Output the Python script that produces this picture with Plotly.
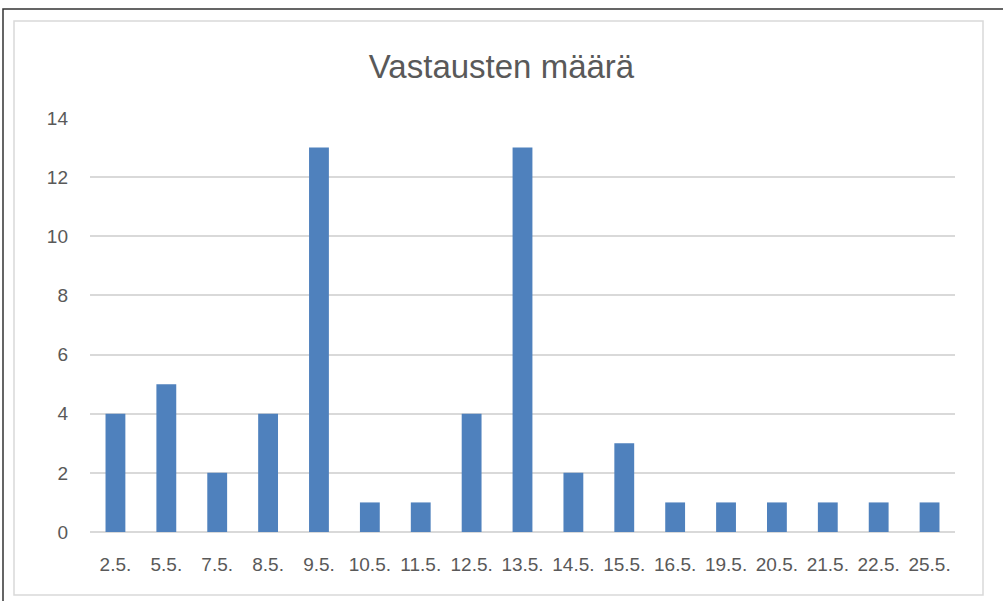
import plotly.graph_objects as go

categories = ["2.5.", "5.5.", "7.5.", "8.5.", "9.5.", "10.5.", "11.5.", "12.5.", "13.5.",
              "14.5.", "15.5.", "16.5.", "19.5.", "20.5.", "21.5.", "22.5.", "25.5."]
values = [4, 5, 2, 4, 13, 1, 1, 4, 13, 2, 3, 1, 1, 1, 1, 1, 1]
y_ticks = [0, 2, 4, 6, 8, 10, 12, 14]

W, H = 1003, 601
L, R, T, B = 90, 955, 118, 532

fig = go.Figure(go.Bar(x=categories, y=values, marker_color="#4F81BD",
                       marker_line_width=0, width=0.39))

def px(x):
    return (x - L) / (R - L)

def py(y):
    return (B - y) / (B - T)

fig.update_layout(
    width=W, height=H,
    margin=dict(l=L, r=W - R, t=T, b=H - B),
    paper_bgcolor="white", plot_bgcolor="white",
    font=dict(family="Liberation Sans, Arial, sans-serif", color="#595959"),
    title=dict(text="Vastausten määrä", x=0.5, xanchor="center", y=1 - 66 / H, yanchor="middle",
               font=dict(size=33, color="#595959", family="Liberation Sans, sans-serif")),
    showlegend=False,
    xaxis=dict(type="category", showgrid=False, zeroline=False, showline=False,
               tickfont=dict(size=19, color="#595959"), ticks="", ticklabelstandoff=19),
    yaxis=dict(range=[0, 14], tickvals=y_ticks, showgrid=True, gridcolor="#D9D9D9", gridwidth=1.5,
               zeroline=True, zerolinecolor="#D9D9D9", zerolinewidth=1.5, showline=False,
               tickfont=dict(size=19, color="#595959"), ticks="", ticklabelstandoff=21),
    shapes=[
        dict(type="rect", xref="paper", yref="paper", x0=px(3), x1=px(1010), y0=py(9), y1=py(610),
             line=dict(color="#333333", width=1.5), layer="below"),
        dict(type="rect", xref="paper", yref="paper", x0=px(14), x1=px(983), y0=py(21), y1=py(595),
             line=dict(color="#D9D9D9", width=1.5), layer="below"),
    ],
)

fig.write_html("out.html", config={"displayModeBar": False},
               post_script="document.body.style.margin='0';document.body.style.overflow='hidden';")
